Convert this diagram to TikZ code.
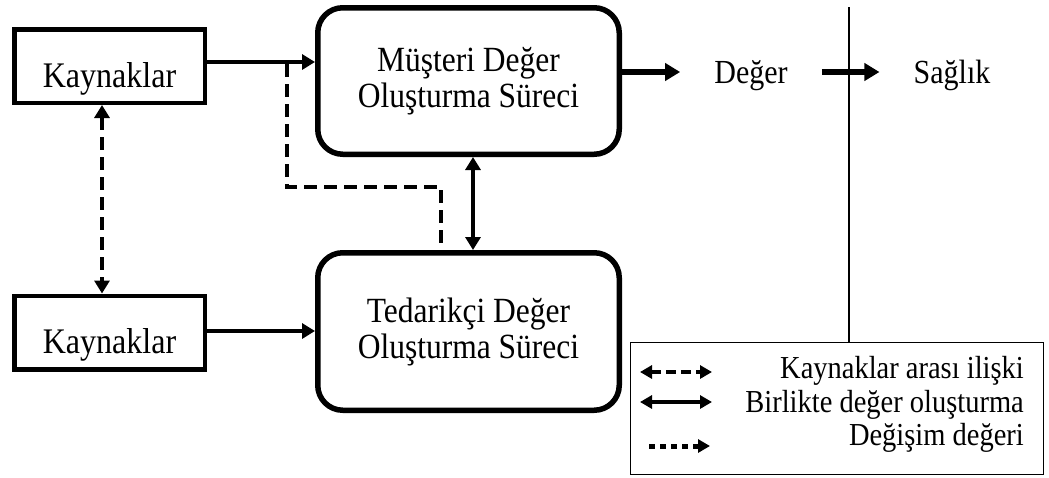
\documentclass[tikz,border=0pt]{standalone}
\usepackage{fontspec}
\setmainfont{Liberation Serif}[FakeStretch=0.89]
\usetikzlibrary{arrows.meta}
\begin{document}
\begin{tikzpicture}[x=1pt,y=-1pt,
  kbox/.style={draw, line width=4.5pt, inner sep=0pt, minimum width=190.5pt, minimum height=73.5pt,
    font=\fontsize{36}{40}\selectfont, text height=42pt, text depth=0pt},
  proc/.style={draw, line width=5.5pt, rounded corners=25pt, inner sep=0pt, minimum width=301.5pt,
    align=center, font=\fontsize{35.4}{36}\selectfont},
  plain/.style={inner ysep=0pt, inner xsep=34pt, anchor=base, font=\fontsize{33.7}{36}\selectfont},
  legtext/.style={anchor=base east, inner sep=0pt, font=\fontsize{32}{34}\selectfont},
  bighead/.tip={Triangle[length=13pt,width=15pt]},
  outhead/.tip={Triangle[length=15pt,width=17pt]},
  lhead/.tip={Triangle[length=12pt,width=13pt]},
  flow/.style={line width=4.5pt, -bighead},
  outflow/.style={line width=5.5pt, -outhead},
  cocreate/.style={line width=3.5pt, bighead-bighead},
  resrel/.style={line width=3.5pt, dash pattern=on 13pt off 7pt, bighead-bighead},
  exch/.style={line width=3.5pt, dash pattern=on 13pt off 7pt},
]
\useasboundingbox (0,0) rectangle (1049,477);

% resource boxes
\node[kbox] (kt) at (109.5,66) {Kaynaklar};
\node[kbox] (kb) at (109.5,332.5) {Kaynaklar};

% value creation processes
\node[proc, minimum height=146.5pt] (mu) at (468.5,81) {Müşteri Değer\\Oluşturma Süreci};
\node[proc, minimum height=157.5pt] (te) at (468.5,331.5) {Tedarikçi Değer\\Oluşturma Süreci};

% outcomes
\node[plain] (deger) at (751,83) {Değer};
\node[plain] (saglik) at (952,83) {Sağlık};

% legend frame
\node[draw, line width=1.3pt, inner sep=0pt, minimum width=412.7pt, minimum height=131.7pt] (lg) at (837,408.5) {};

% flows from resources into the processes
\draw[flow] ([yshift=4pt]kt.east) -- ([yshift=4pt]kt.east -| mu.west);
\draw[flow] ([yshift=1.5pt]kb.east) -- ([yshift=1.5pt]kb.east -| te.west);

% relation between the two resource pools
\draw[resrel] ([xshift=-7.5pt]kt.south) -- ([xshift=-7.5pt]kb.north);

% co-creation between the processes
\draw[cocreate] ([xshift=4.5pt]mu.south) -- ([xshift=4.5pt]te.north);

% exchange path branching off the upper flow
\coordinate (br) at (287,64);
\coordinate (bend) at (441,187);
\draw[exch] (br) |- (bend) -- (bend |- te.north);

% value and well-being
\draw[outflow] ([yshift=9pt]mu.east) -- ([yshift=9pt]mu.east -| deger.west);
\draw[outflow] ([yshift=9pt]mu.east -| deger.east) -- ([yshift=9pt]mu.east -| saglik.west);

% separator
\coordinate (vtop) at (849,7);
\draw[line width=1.5pt] (vtop) -- (vtop |- lg.north);

% legend entries
\coordinate (l1a) at (640,372); \coordinate (l1b) at (712,372);
\coordinate (l2a) at (640,402); \coordinate (l2b) at (712,402);
\coordinate (l3a) at (649,446); \coordinate (l3b) at (710,446);
\draw[line width=3.5pt, dash pattern=on 10pt off 5pt, lhead-lhead] (l1a) -- (l1b);
\draw[line width=3.5pt, lhead-lhead] (l2a) -- (l2b);
\draw[line width=5pt, dash pattern=on 6pt off 5pt, -lhead] (l3a) -- (l3b);
\node[legtext] (t1) at (1024,378) {Kaynaklar arası ilişki};
\node[legtext] (t2) at (1024,412) {Birlikte değer oluşturma};
\node[legtext] (t3) at (1024,445) {Değişim değeri};
\end{tikzpicture}
\end{document}
